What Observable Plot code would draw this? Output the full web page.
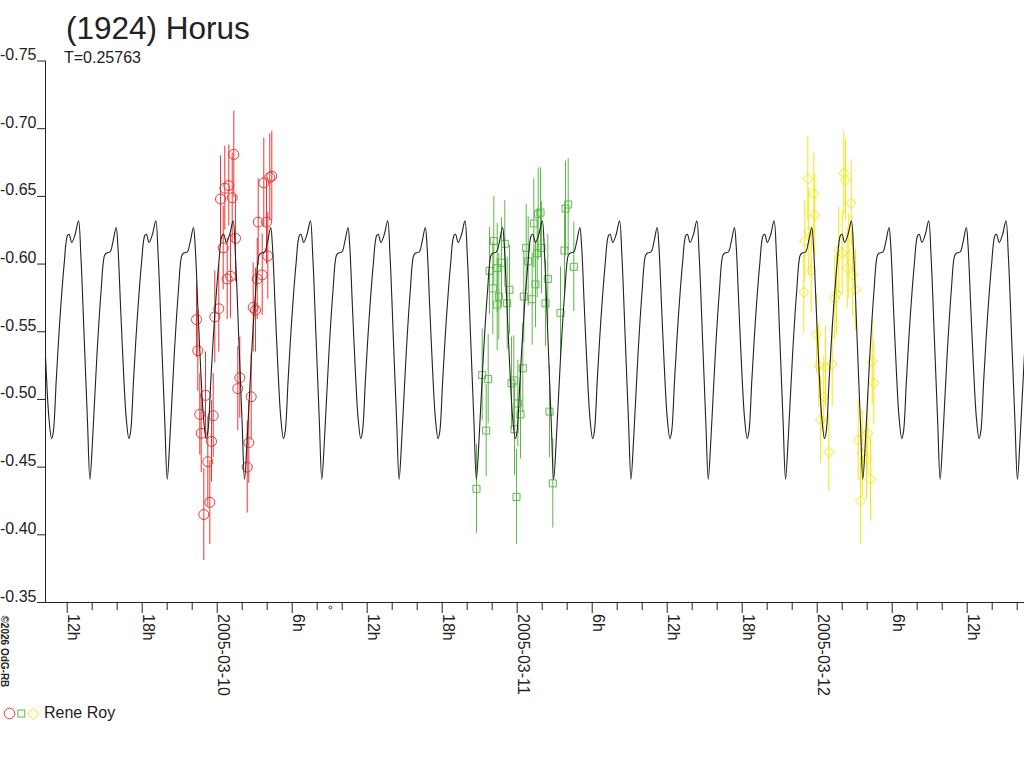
<!DOCTYPE html>
<html>
<head>
<meta charset="utf-8">
<script src="https://cdn.jsdelivr.net/npm/d3@7"></script>
<script src="https://cdn.jsdelivr.net/npm/@observablehq/plot@0.6"></script>
<style>
  body { margin: 0; background: #fff; font-family: "Liberation Sans", Arial, sans-serif; color: #222; }
  #wrap { position: relative; width: 1024px; height: 768px; overflow: hidden; background: #fff; }
  #chart { position: absolute; left: 0; top: 0; }
  .abs { position: absolute; white-space: nowrap; line-height: 1; }
</style>
</head>
<body>
<div id="wrap">
  <div id="chart"></div>
  <div class="abs" id="title" style="left:66px; top:13.2px; font-size:31.5px;"></div>
  <div class="abs" id="subtitle" style="left:64px; top:49.5px; font-size:16px;"></div>
  <svg class="abs" id="legendSym" style="left:0; top:700px;" width="42" height="28"></svg>
  <div class="abs" id="legendText" style="left:44px; top:704.8px; font-size:16px;"></div>
</div>
<script>
// ---- texts ----
const titleText = "(1924) Horus";
const subtitleText = "T=0.25763";
const observer = "Rene Roy";
const creditText = "©2026 OdG-RB";

// ---- period and model curve (one period) ----
const periodDays = 0.25763;
const epochHours = 33.10; // a deep minimum, hours after 2005-03-10 00:00 UT
const curvePhase = [0.000, 0.035, 0.091, 0.143, 0.187, 0.209, 0.261, 0.296, 0.339, 0.361,
                    0.396, 0.435, 0.470, 0.504, 0.526, 0.565, 0.609, 0.665, 0.709, 0.730,
                    0.765, 0.809, 0.852, 0.883, 0.926, 0.969];
const curveMag   = [-0.441, -0.471, -0.533, -0.579, -0.606, -0.608, -0.609, -0.616, -0.627, -0.614,
                    -0.569, -0.520, -0.486, -0.471, -0.476, -0.515, -0.557, -0.599, -0.621, -0.622,
                    -0.616, -0.622, -0.632, -0.606, -0.545, -0.483];

// ---- observations (hours after 2005-03-10 00:00 UT, relative magnitude, error) ----
const redHours = [-1.656, -1.552, -0.936, -1.392, -0.320, -1.280, -0.456, -0.752, -0.592, -1.072,
                  -0.192, 0.128, 0.264, 0.608, 0.928, 1.200, 1.328, 0.480, 1.464, 0.800,
                  1.064, 1.808, 1.648, 2.720, 2.528, 2.400, 2.880, 3.064, 3.280, 3.200,
                  3.600, 3.728, 3.944, 4.048, 4.208, 4.368];
const redMag   = [-0.559, -0.536, -0.503, -0.489, -0.488, -0.475, -0.469, -0.454, -0.424, -0.415,
                  -0.561, -0.567, -0.648, -0.656, -0.658, -0.649, -0.681, -0.612, -0.619, -0.589,
                  -0.591, -0.516, -0.508, -0.502, -0.468, -0.450, -0.568, -0.566, -0.631, -0.589,
                  -0.592, -0.660, -0.631, -0.606, -0.664, -0.665];
const redErr   = [0.028, 0.030, 0.032, 0.030, 0.031, 0.029, 0.030, 0.033, 0.031, 0.034,
                  0.034, 0.032, 0.032, 0.031, 0.030, 0.033, 0.032, 0.031, 0.032, 0.030,
                  0.031, 0.030, 0.031, 0.032, 0.030, 0.034, 0.033, 0.031, 0.032, 0.030,
                  0.030, 0.033, 0.031, 0.032, 0.032, 0.033];

const greenHours = [20.744, 21.200, 21.680, 21.520, 21.784, 22.128, 22.048, 22.400, 22.528, 22.400,
                    22.744, 23.008, 23.200, 23.384, 23.544, 23.728, 24.048, 24.264, 23.784, 23.944,
                    24.448, 24.528, 24.720, 24.880, 25.200, 25.328, 25.464, 25.680, 25.864, 25.600,
                    25.944, 26.264, 26.448, 26.584, 26.848, 27.464, 27.784, 27.864, 28.080, 28.528];
const greenMag   = [-0.434, -0.518, -0.515, -0.477, -0.595, -0.617, -0.582, -0.597, -0.576, -0.570,
                    -0.601, -0.615, -0.571, -0.581, -0.512, -0.514, -0.497, -0.489, -0.478, -0.428,
                    -0.523, -0.576, -0.612, -0.602, -0.574, -0.630, -0.585, -0.637, -0.638, -0.608,
                    -0.612, -0.571, -0.589, -0.491, -0.438, -0.564, -0.610, -0.641, -0.644, -0.598];
const greenErr   = [0.033, 0.034, 0.033, 0.034, 0.032, 0.033, 0.034, 0.033, 0.032, 0.034,
                    0.033, 0.032, 0.034, 0.033, 0.034, 0.033, 0.032, 0.033, 0.034, 0.035,
                    0.033, 0.034, 0.032, 0.033, 0.034, 0.033, 0.032, 0.034, 0.033, 0.033,
                    0.034, 0.032, 0.033, 0.034, 0.033, 0.034, 0.033, 0.035, 0.034, 0.033];

const yellowHours = [47.248, 47.728, 47.808, 47.328, 47.008, 47.520, 46.928, 47.944, 48.128, 48.664,
                     49.200, 48.528, 48.264, 48.928, 49.408, 49.544, 49.728, 50.000, 50.128, 50.264,
                     50.720, 50.528, 50.400, 50.848, 51.064, 52.400, 52.528, 51.280, 52.048, 51.600,
                     51.944, 52.264, 51.464];
const yellowMag   = [-0.663, -0.652, -0.636, -0.624, -0.617, -0.595, -0.579, -0.548, -0.525, -0.524,
                     -0.526, -0.502, -0.485, -0.461, -0.575, -0.578, -0.610, -0.608, -0.667, -0.662,
                     -0.645, -0.606, -0.597, -0.592, -0.581, -0.528, -0.512, -0.470, -0.475, -0.460,
                     -0.456, -0.441, -0.425];
const yellowErr   = [0.031, 0.030, 0.031, 0.032, 0.030, 0.031, 0.030, 0.029, 0.031, 0.030,
                     0.031, 0.030, 0.032, 0.029, 0.031, 0.030, 0.032, 0.031, 0.031, 0.030,
                     0.032, 0.031, 0.030, 0.031, 0.030, 0.032, 0.031, 0.030, 0.031, 0.032,
                     0.030, 0.031, 0.032];

// ---- axes ----
const xStartHours = -13.736;
const xEndHours = 64.584;
const yTicks = [-0.75, -0.70, -0.65, -0.60, -0.55, -0.50, -0.45, -0.40, -0.35];
const majorTickHours = [-12, -6, 0, 6, 12, 18, 24, 30, 36, 42, 48, 54, 60];
const minorTickHours = [-10, -8, -4, -2, 2, 4, 8, 10, 14, 16, 20, 22, 26, 28, 32, 34, 38, 40, 44, 46, 50, 52, 56, 58, 62, 64];
const markerHours = [9.06];

const colors = {red: "#f03434", green: "#5cb84a", yellow: "#f6e60a", curve: "#222222"};

// ---- helpers ----
const base = Date.UTC(2005, 2, 10);
const toDate = h => new Date(base + h * 3600e3);
const rows = (H, M, E) => H.map((h, i) => ({t: toDate(h), mag: M[i], err: E[i]}));
const red = rows(redHours, redMag, redErr);
const green = rows(greenHours, greenMag, greenErr);
const yellow = rows(yellowHours, yellowMag, yellowErr);

const periodHours = periodDays * 24;
const curve = [];
for (let k = -8; k <= 6; k++) {
  curvePhase.forEach((p, i) => {
    const h = epochHours + (k + p) * periodHours;
    if (h > xStartHours - periodHours && h < xEndHours + periodHours) curve.push({t: toDate(h), mag: curveMag[i]});
  });
}

const labelFor = h => {
  const d = toDate(h);
  const hr = d.getUTCHours();
  return hr === 0 ? d3.utcFormat("%Y-%m-%d")(d) : hr + "h";
};

const xDomain = [toDate(xStartHours), toDate(xEndHours)];
const font = "'Liberation Sans', Arial, sans-serif";

const chart = Plot.plot({
  width: 1024,
  height: 700,
  marginTop: 60.5,
  marginBottom: 98,
  marginLeft: 45,
  marginRight: 0,
  style: {fontFamily: font, fontSize: "16px", color: "#222", background: "white", overflow: "visible"},
  x: {type: "utc", domain: xDomain, axis: null},
  y: {domain: [-0.75, -0.35], reverse: true, axis: null},
  marks: [
    // axis lines
    Plot.ruleX([xDomain[0]], {y1: -0.75, y2: -0.35, stroke: "#222"}),
    Plot.ruleY([-0.35], {x1: xDomain[0], x2: xDomain[1], stroke: "#222"}),
    // y ticks and labels
    Plot.axisY({ticks: yTicks, tickSize: 8, tickFormat: () => "", label: null, stroke: "#222"}),
    Plot.text(yTicks, {y: d => d, text: d => d.toFixed(2), frameAnchor: "left", dx: -9, dy: -1,
      textAnchor: "end", lineAnchor: "bottom", fontSize: 16, fill: "#222"}),
    // x ticks
    Plot.axisX({ticks: majorTickHours.map(toDate), tickSize: 11, tickFormat: () => "", label: null, stroke: "#222"}),
    Plot.axisX({ticks: minorTickHours.map(toDate), tickSize: 8, tickFormat: () => "", label: null, stroke: "#222"}),
    Plot.text(majorTickHours, {x: toDate, text: labelFor, frameAnchor: "bottom", dy: 11.5, dx: 0.5,
      rotate: 90, textAnchor: "start", lineAnchor: "bottom", fontSize: 16, fill: "#222"}),
    Plot.dot(markerHours, {x: toDate, frameAnchor: "bottom", dy: 5, r: 1.4, stroke: "#222", strokeWidth: 0.8, fill: "none"}),
    // credit
    Plot.text([creditText], {text: d => d, frameAnchor: "bottom-left", dx: -45, dy: 13,
      rotate: 90, textAnchor: "start", lineAnchor: "bottom", fontSize: 10, fontWeight: "bold", fill: "#222"}),
    // error bars
    Plot.ruleX(red, {x: "t", y1: d => d.mag - d.err, y2: d => d.mag + d.err, stroke: colors.red}),
    Plot.ruleX(green, {x: "t", y1: d => d.mag - d.err, y2: d => d.mag + d.err, stroke: colors.green}),
    Plot.ruleX(yellow, {x: "t", y1: d => d.mag - d.err, y2: d => d.mag + d.err, stroke: colors.yellow}),
    // points
    Plot.dot(red, {x: "t", y: "mag", r: 5, symbol: "circle", stroke: colors.red, fill: "none", strokeWidth: 1}),
    Plot.dot(green, {x: "t", y: "mag", r: 3.95, symbol: "square", stroke: colors.green, fill: "none", strokeWidth: 1}),
    Plot.dot(yellow, {x: "t", y: "mag", r: 4.6, symbol: "diamond2", stroke: colors.yellow, fill: "none", strokeWidth: 1}),
    // model curve
    Plot.line(curve, {x: "t", y: "mag", stroke: colors.curve, strokeWidth: 1.1, curve: "catmull-rom", clip: true})
  ]
});
document.getElementById("chart").appendChild(chart);

document.getElementById("title").textContent = titleText;
document.getElementById("subtitle").textContent = subtitleText;
document.getElementById("legendText").textContent = observer;

// legend symbols
const ls = d3.select("#legendSym");
ls.append("circle").attr("cx", 9.5).attr("cy", 13.5).attr("r", 5.3)
  .attr("fill", "none").attr("stroke", colors.red);
ls.append("rect").attr("x", 17.8).attr("y", 10).attr("width", 7).attr("height", 7)
  .attr("fill", "none").attr("stroke", colors.green);
ls.append("path").attr("d", "M33.3,8.3L38.8,13.8L33.3,19.3L27.8,13.8Z")
  .attr("fill", "none").attr("stroke", colors.yellow);
</script>
</body>
</html>
